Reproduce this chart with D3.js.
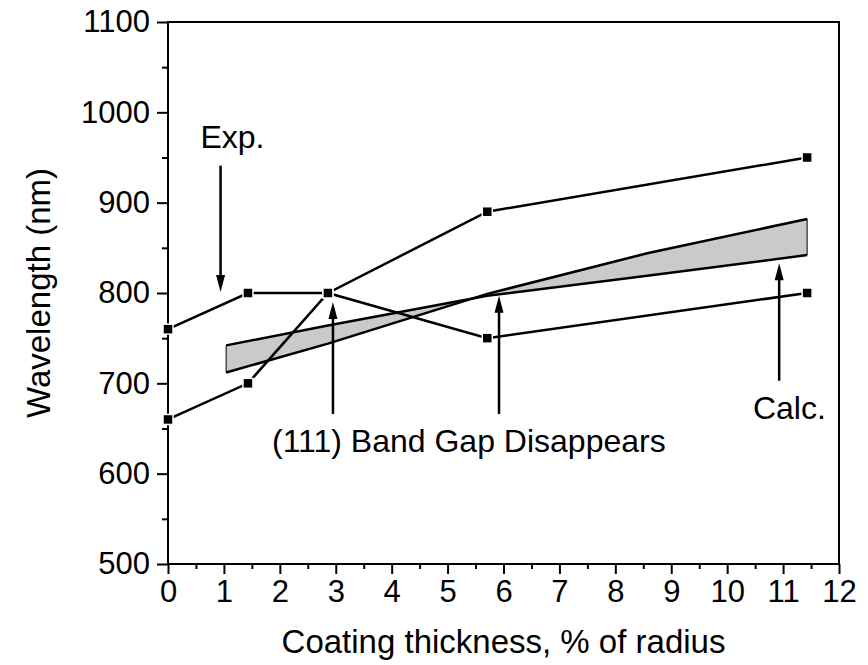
<!DOCTYPE html>
<html lang="en">
  <head>
    <meta charset="utf-8" />
    <title>Wavelength vs coating thickness</title>
    <script src="https://d3js.org/d3.v7.min.js"></script>
    <style>
      body {
        margin: 0;
        background: #fff;
      }
      svg {
        font-family: "Liberation Sans", Arial, sans-serif;
      }
      .axis text {
        font-size: 31px;
        fill: #000;
      }
      .axis line {
        stroke: #000;
        stroke-width: 2;
      }
      .axis path {
        display: none;
      }
      .title {
        font-size: 33px;
      }
      .note {
        font-size: 32px;
      }
    </style>
  </head>

  <body>
    <svg id="chart"></svg>

    <script>
      // experimental points
      const thickness = [0, 1.43, 2.86, 5.71, 11.43];
      const expUpper = [760, 800, 800, 890, 950];
      const expLower = [660, 700, 800, 750, 800];

      // calculated band edges
      const calcX = [1.04, 2.86, 5.71, 8.57, 11.43];
      const calcEdgeA = [742, 764, 797, 819, 842];
      const calcEdgeB = [712, 744, 799, 844, 882];

      const xTicks = d3.range(0, 13, 1);
      const yTicks = d3.range(500, 1101, 100);

      // arrows: [x, yFrom, yTo]
      const arrows = [
        [0.94, 941, 801],
        [2.95, 666, 790],
        [5.92, 666, 797],
        [10.93, 703, 833],
      ];
      const notes = [
        { text: "Exp.", x: 0.58, y: 961 },
        { text: "(111) Band Gap Disappears", x: 1.86, y: 624 },
        { text: "Calc.", x: 10.46, y: 661 },
      ];

      const width = 868;
      const height = 665;
      const margin = { top: 22, right: 29, bottom: 101, left: 168 };

      const svg = d3.select("#chart").attr("width", width).attr("height", height);

      const x = d3.scaleLinear().domain([0, 12]).range([margin.left, width - margin.right]);
      const y = d3.scaleLinear().domain([500, 1100]).range([height - margin.bottom, margin.top]);

      // minor ticks
      svg
        .append("g")
        .attr("class", "axis")
        .attr("transform", `translate(0,${y(500)})`)
        .call(d3.axisBottom(x).tickValues(d3.range(0.5, 12, 1)).tickSize(5).tickFormat(""));
      svg
        .append("g")
        .attr("class", "axis")
        .attr("transform", `translate(${x(0)},0)`)
        .call(d3.axisLeft(y).tickValues(d3.range(550, 1100, 100)).tickSize(6).tickFormat(""));

      // major ticks
      svg
        .append("g")
        .attr("class", "axis")
        .attr("transform", `translate(0,${y(500)})`)
        .call(d3.axisBottom(x).tickValues(xTicks).tickSize(10).tickPadding(6).tickFormat(d3.format("d")));
      svg
        .append("g")
        .attr("class", "axis")
        .attr("transform", `translate(${x(0)},0)`)
        .call(d3.axisLeft(y).tickValues(yTicks).tickSize(11).tickPadding(7).tickFormat(d3.format("d")));

      // frame
      svg
        .append("rect")
        .attr("x", x(0))
        .attr("y", y(1100))
        .attr("width", x(12) - x(0))
        .attr("height", y(500) - y(1100))
        .attr("fill", "none")
        .attr("stroke", "#000")
        .attr("stroke-width", 2);

      // calculated band
      const band = calcX.map((d, i) => ({ x: d, a: calcEdgeA[i], b: calcEdgeB[i] }));
      svg
        .append("path")
        .datum(band)
        .attr("fill", "#c9cacc")
        .attr("stroke", "#000")
        .attr("stroke-width", 1)
        .attr(
          "d",
          d3
            .area()
            .x((d) => x(d.x))
            .y0((d) => y(d.a))
            .y1((d) => y(d.b))
        );
      [calcEdgeA, calcEdgeB].forEach((edge) => {
        svg
          .append("path")
          .datum(calcX.map((d, i) => [d, edge[i]]))
          .attr("fill", "none")
          .attr("stroke", "#000")
          .attr("stroke-width", 2.5)
          .attr(
            "d",
            d3
              .line()
              .x((d) => x(d[0]))
              .y((d) => y(d[1]))
          );
      });

      // experimental series
      const line = d3
        .line()
        .x((d) => x(d[0]))
        .y((d) => y(d[1]));
      [expUpper, expLower].forEach((series) => {
        const pts = thickness.map((d, i) => [d, series[i]]);
        svg
          .append("path")
          .datum(pts)
          .attr("fill", "none")
          .attr("stroke", "#000")
          .attr("stroke-width", 2.5)
          .attr("d", line);
      });
      [expUpper, expLower].forEach((series) => {
        svg
          .append("g")
          .selectAll("rect")
          .data(thickness.map((d, i) => [d, series[i]]))
          .join("rect")
          .attr("x", (d) => x(d[0]) - 5)
          .attr("y", (d) => y(d[1]) - 5)
          .attr("width", 10)
          .attr("height", 10)
          .attr("fill", "#000")
          .attr("stroke", "#fff")
          .attr("stroke-width", 1.5);
      });

      // arrows
      const head = 17;
      arrows.forEach(([ax, y0, y1]) => {
        const px = x(ax);
        const dir = y(y1) > y(y0) ? 1 : -1;
        const tip = y(y1);
        svg
          .append("line")
          .attr("x1", px)
          .attr("x2", px)
          .attr("y1", y(y0))
          .attr("y2", tip - dir * head * 0.6)
          .attr("stroke", "#000")
          .attr("stroke-width", 2.5);
        svg
          .append("path")
          .attr("d", `M${px},${tip}L${px - 4.5},${tip - dir * head}L${px + 4.5},${tip - dir * head}Z`)
          .attr("fill", "#000");
      });

      svg
        .append("g")
        .selectAll("text")
        .data(notes)
        .join("text")
        .attr("class", "note")
        .attr("x", (d) => x(d.x))
        .attr("y", (d) => y(d.y))
        .text((d) => d.text);

      // axis titles
      svg
        .append("text")
        .attr("class", "title")
        .attr("text-anchor", "middle")
        .attr("x", (x(0) + x(12)) / 2)
        .attr("y", 653)
        .text("Coating thickness, % of radius");
      svg
        .append("text")
        .attr("class", "title")
        .attr("text-anchor", "middle")
        .attr("transform", `translate(50,${(y(500) + y(1100)) / 2}) rotate(-90)`)
        .text("Wavelength (nm)");
    </script>
  </body>
</html>
